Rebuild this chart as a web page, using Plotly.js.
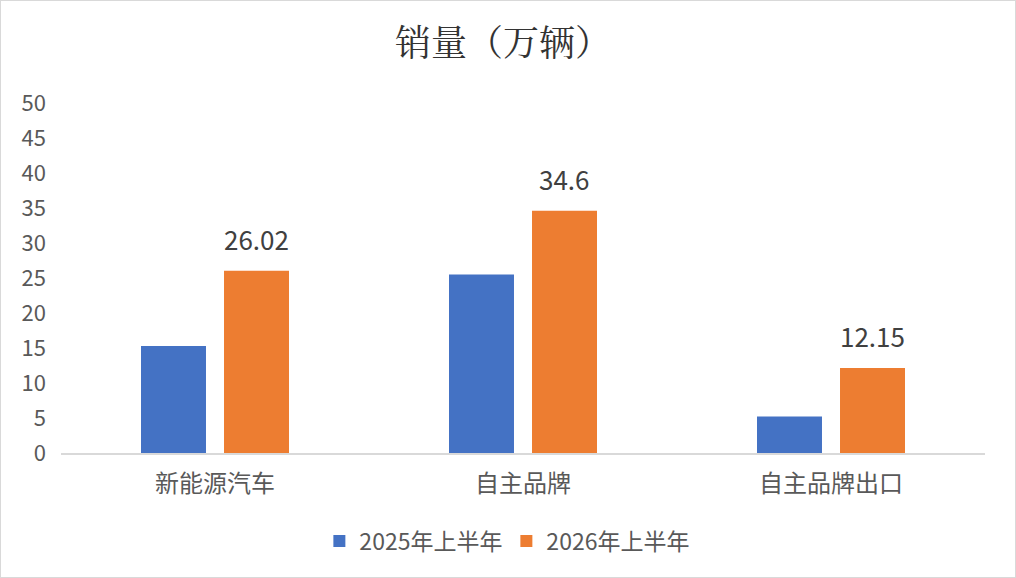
<!DOCTYPE html>
<html>
<head>
<meta charset="utf-8">
<script src="https://cdn.plot.ly/plotly-3.0.1.min.js"></script>
<style>
  html, body { margin: 0; padding: 0; background: #fff; }
  #chart { width: 1014px; height: 576px; border: 1px solid #d9d9d9; }
</style>
</head>
<body>
<div id="chart"></div>
<script>
const categories = ["新能源汽车", "自主品牌", "自主品牌出口"];
const series2025 = [15.3, 25.5, 5.2];
const series2026 = [26.02, 34.6, 12.15];
const labels2026 = ["26.02", "34.6", "12.15"];
const seriesNames = ["2025年上半年", "2026年上半年"];
const yTicks = [0, 5, 10, 15, 20, 25, 30, 35, 40, 45, 50];

const font = "'Noto Sans CJK SC', 'Noto Sans', sans-serif";

// one slot per bar inside a group, in px (used to put labels over the orange bars)
const slotPx = 83;

let data = [
  {
    type: "bar",
    name: seriesNames[0],
    x: categories,
    y: series2025,
    marker: { color: "#4472c4" },
    hoverinfo: "skip",
  },
  {
    type: "bar",
    name: seriesNames[1],
    x: categories,
    y: series2026,
    marker: { color: "#ed7d31" },
    hoverinfo: "skip",
  },
];

let annotations = categories.map((cat, i) => ({
  x: cat,
  y: series2026[i],
  xref: "x",
  yref: "y",
  text: labels2026[i],
  showarrow: false,
  xanchor: "center",
  yanchor: "middle",
  xshift: slotPx / 2,
  yshift: 32,
  font: { size: 26, color: "#404040", family: font },
}));

let layout = {
  width: 1014,
  height: 576,
  margin: { l: 60, r: 30, t: 102, b: 124 },
  paper_bgcolor: "#fff",
  plot_bgcolor: "#fff",
  font: { family: font, color: "#595959", size: 22 },
  title: {
    text: "销量（万辆）",
    font: {
      size: 36,
      color: "#333333",
      family: "'Noto Serif CJK SC', 'Noto Serif SC', 'Noto Sans CJK SC', serif",
    },
    x: 0.495,
    xanchor: "center",
    y: 0.927,
    yanchor: "middle",
  },
  bargap: 0.461,
  bargroupgap: 0.217,
  annotations: annotations,
  xaxis: {
    showline: true,
    linecolor: "#d9d9d9",
    linewidth: 1.5,
    showgrid: false,
    zeroline: false,
    ticks: "",
    ticklabelstandoff: 9,
    tickfont: { size: 24, color: "#595959" },
  },
  yaxis: {
    range: [0, 50],
    tickvals: yTicks,
    showgrid: false,
    zeroline: false,
    showline: false,
    ticks: "",
    ticklabelstandoff: 14,
    tickfont: { size: 22, color: "#595959" },
  },
  showlegend: true,
  legend: {
    orientation: "h",
    x: 0.482,
    xanchor: "center",
    y: -0.19,
    yanchor: "top",
    font: { size: 23, color: "#595959" },
    entrywidth: 142,
    traceorder: "normal",
  },
};

Plotly.newPlot("chart", data, layout, { displayModeBar: false, staticPlot: true });
</script>
</body>
</html>
